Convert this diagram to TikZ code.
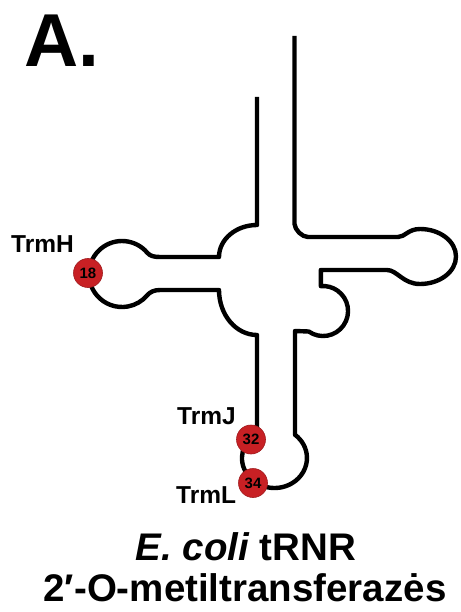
\documentclass[tikz,border=0pt]{standalone}
\usepackage{fontspec}
\setmainfont{Liberation Sans}
\begin{document}
\begin{tikzpicture}[x=1pt,y=-1pt,
  rna/.style={line width=4.4pt, line join=round, line cap=butt},
  site/.style={circle, fill=sitered, draw=sitered!80!black, line width=0.6pt,
    minimum size=29pt, inner sep=0pt, font=\fontsize{15}{15}\selectfont\bfseries},
  enzyme/.style={anchor=base west, inner sep=0pt, font=\fontsize{24.5}{24.5}\selectfont\bfseries},
  caption/.style={anchor=base, inner sep=0pt, font=\fontsize{38.5}{38.5}\selectfont\bfseries}]
\definecolor{sitered}{RGB}{200,32,36}
\useasboundingbox (0,0) rectangle (460,612);

% panel letter
\node[anchor=base west, inner sep=0pt, font=\fontsize{75}{75}\selectfont\bfseries] (panel) at (24,67) {A.};

% tRNA cloverleaf backbone, 5' end to 3' end
\draw[rna] (257,97) -- (257,225)
  arc[start angle=-90, end angle=-180, x radius=38, y radius=32]
  -- (160,257)
  .. controls (154,257) and (150,256) .. (147.3,252.8)
  arc[start angle=-40, end angle=-320, radius=33]
  .. controls (150,292) and (154,290) .. (160,290)
  -- (219,290)
  arc[start angle=180, end angle=90, x radius=38, y radius=45]
  -- (257,432.7)
  arc[start angle=237.5, end angle=-50.9, x radius=32.5, y radius=30]
  -- (295,331) -- (308.7,331.5)
  arc[start angle=125, end angle=-95, radius=25]
  -- (320.8,270) -- (387,270)
  .. controls (397,270) and (403,284) .. (420,284)
  arc[start angle=90, end angle=-90, x radius=36, y radius=27.5]
  .. controls (408,229) and (405,237) .. (398,237)
  -- (308,237)
  .. controls (302,237) and (295,230) .. (294.5,224)
  -- (294.5,36);

% modified nucleotide positions
\node[site] (s18) at (88,273) {18};
\node[site] (s32) at (251,439.5) {32};
\node[site] (s34) at (253,483) {34};

% methyltransferases
\node[enzyme] (trmH) at (11,252) {TrmH};
\node[enzyme] (trmJ) at (177,424) {TrmJ};
\node[enzyme] (trmL) at (176,503) {TrmL};

% caption
\node[caption] (cap1) at (246,560) {\itshape E. coli\upshape{} tRNR};
\node[caption] (cap2) at (245,601) {2′-O-metiltransferazės};
\end{tikzpicture}
\end{document}
